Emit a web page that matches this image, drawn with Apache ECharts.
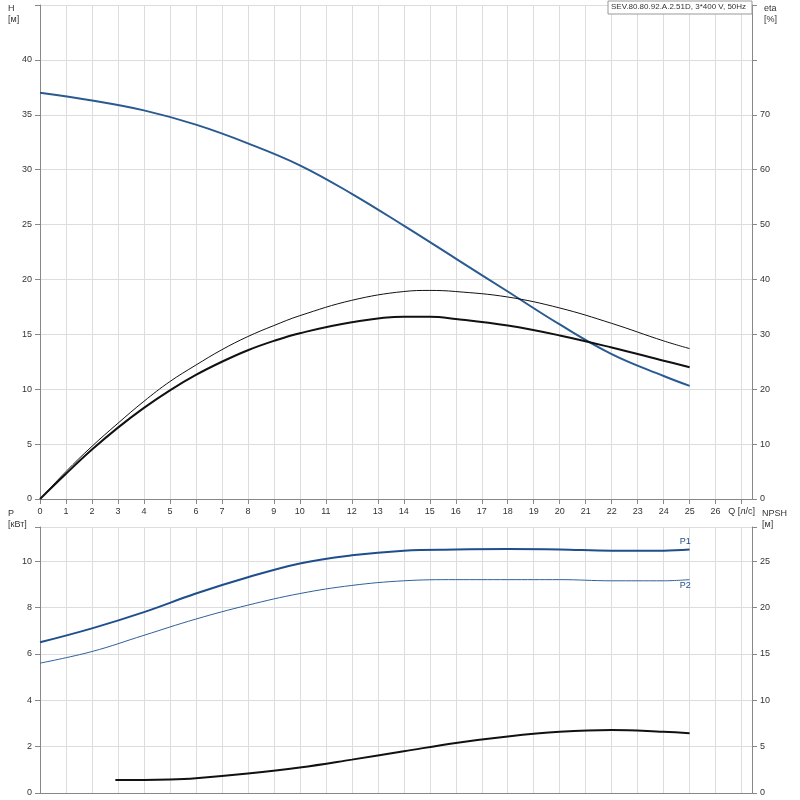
<!DOCTYPE html><html><head><meta charset="utf-8"><script src="https://cdn.jsdelivr.net/npm/echarts@6/dist/echarts.min.js"></script></head><body style="margin:0"><div id="c" style="width:800px;height:800px"></div><script>
const qH=[0,2,4,6,8,10,12,14,16,18,20,22,24,25];
const H=[37,36.3,35.4,34.1,32.4,30.4,27.8,24.9,21.9,18.9,15.9,13.2,11.2,10.3];
const qE=[0,1,2,3,4,5,6,7,8,9,10,12,14,15,16,18,20,22,24,25];
const eta1=[0,5,9.6,13.8,17.8,21.4,24.4,27.2,29.6,31.6,33.4,36.2,37.8,38,37.8,36.8,34.8,32,28.8,27.4];
const eta2=[0,4.6,9,13,16.6,19.8,22.6,25,27.1,28.8,30.2,32.2,33.2,33.2,32.8,31.6,29.8,27.6,25.2,24];
const qP=[0,2,4,6,8,10,12,14,16,18,20,22,24,25];
const P1=[6.5,7.1,7.8,8.6,9.3,9.9,10.25,10.45,10.5,10.52,10.5,10.45,10.45,10.5];
const P2=[5.6,6.1,6.8,7.5,8.1,8.6,8.95,9.15,9.2,9.2,9.2,9.15,9.15,9.2];
const qN=[2.9,4,5,6,8,10,12,14,16,18,20,22,24,25];
const NPSH=[1.4,1.4,1.45,1.6,2.1,2.75,3.6,4.5,5.4,6.1,6.6,6.8,6.6,6.45];
const z=(a,b)=>a.map((v,i)=>[v,b[i]]);
const lab={fontSize:9,color:'#333',fontFamily:'Liberation Sans'};
const sl={lineStyle:{color:'#ddd'}};
const xa=(g,show)=>({type:'value',gridIndex:g,min:0,max:27.4,interval:1,axisLine:{lineStyle:{color:'#888'}},axisTick:{show:show},
 axisLabel:{show:show,...lab,formatter:v=>v==27?'Q [л/с]':v},splitLine:sl});
const ch=echarts.init(document.getElementById('c'));
ch.setOption({animation:false,
grid:[{left:40,right:48,top:5,height:494},{left:40,right:48,top:527,height:266}],
xAxis:[xa(0,true),xa(1,false)],
yAxis:[
{type:'value',gridIndex:0,min:0,max:45,interval:5,axisLine:{show:true,lineStyle:{color:'#888'}},axisLabel:{...lab,formatter:v=>v>40?'':v},splitLine:sl},
{type:'value',gridIndex:0,min:0,max:90,interval:10,position:'right',axisLine:{show:true,lineStyle:{color:'#888'}},axisLabel:{...lab,formatter:v=>v>70?'':v},splitLine:{show:false}},
{type:'value',gridIndex:1,min:0,max:11.47,interval:2,axisLine:{show:true,lineStyle:{color:'#888'}},axisLabel:{...lab,formatter:v=>v>10?'':v},splitLine:sl},
{type:'value',gridIndex:1,min:0,max:28.7,interval:5,position:'right',axisLine:{show:true,lineStyle:{color:'#888'}},axisLabel:{...lab,formatter:v=>v>25?'':v},splitLine:{show:false}}],
series:[
{type:'line',xAxisIndex:0,yAxisIndex:0,data:z(qH,H),smooth:0.4,symbol:'none',lineStyle:{color:'#2a5a90',width:2}},
{type:'line',xAxisIndex:0,yAxisIndex:1,data:z(qE,eta1),smooth:0.4,symbol:'none',lineStyle:{color:'#111',width:1}},
{type:'line',xAxisIndex:0,yAxisIndex:1,data:z(qE,eta2),smooth:0.4,symbol:'none',lineStyle:{color:'#111',width:2}},
{type:'line',xAxisIndex:1,yAxisIndex:2,data:z(qP,P1),smooth:0.4,symbol:'none',lineStyle:{color:'#1f4e8c',width:2},endLabel:{show:true,formatter:'P1',fontSize:9,color:'#1f4e8c',offset:[-18,-8]}},
{type:'line',xAxisIndex:1,yAxisIndex:2,data:z(qP,P2),smooth:0.4,symbol:'none',lineStyle:{color:'#2f5f99',width:1},endLabel:{show:true,formatter:'P2',fontSize:9,color:'#1f4e8c',offset:[-18,6]}},
{type:'line',xAxisIndex:1,yAxisIndex:3,data:z(qN,NPSH),smooth:0.4,symbol:'none',lineStyle:{color:'#111',width:2}}],
graphic:[
{type:'text',left:8,top:3,style:{text:'H\n[м]',fontSize:9,fill:'#333',lineHeight:11}},
{type:'text',left:764,top:3,style:{text:'eta\n[%]',fontSize:9,fill:'#333',lineHeight:11}},
{type:'text',left:8,top:508,style:{text:'P\n[кВт]',fontSize:9,fill:'#333',lineHeight:11}},
{type:'text',left:762,top:508,style:{text:'NPSH\n[м]',fontSize:9,fill:'#333',lineHeight:11}},
{type:'rect',z:10,shape:{x:608,y:1,width:144,height:13},style:{fill:'#fff',stroke:'#999'}},
{type:'text',z:11,left:611,top:3,style:{text:'SEV.80.80.92.A.2.51D, 3*400 V, 50Hz',fontSize:8,fill:'#333',fontFamily:'Liberation Sans'}}]
});
</script></body></html>
